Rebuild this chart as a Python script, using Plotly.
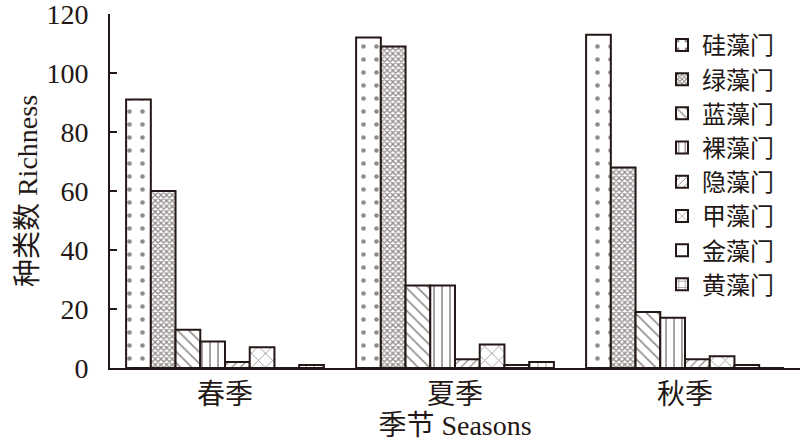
import plotly.graph_objects as go

seasons = ["春季", "夏季", "秋季"]
phyla = ["硅藻门", "绿藻门", "蓝藻门", "裸藻门", "隐藻门", "甲藻门", "金藻门", "黄藻门"]
bacillariophyta = [91, 112, 113]
chlorophyta = [60, 109, 68]
cyanophyta = [13, 28, 19]
euglenophyta = [9, 28, 17]
cryptophyta = [2, 3, 3]
pyrrophyta = [7, 8, 4]
chrysophyta = [0, 1, 1]
xanthophyta = [1, 2, 0]
series = [bacillariophyta, chlorophyta, cyanophyta, euglenophyta,
          cryptophyta, pyrrophyta, chrysophyta, xanthophyta]

ink = "#231815"
patterns = [
    dict(shape=".", size=13, solidity=0.1),
    dict(shape="x", size=4, solidity=0.55),
    dict(shape="\\", size=8, solidity=0.2),
    dict(shape="|", size=8, solidity=0.2),
    dict(shape="/", size=6, solidity=0.2),
    dict(shape="x", size=10, solidity=0.15),
    dict(shape="", size=8, solidity=0.2),
    dict(shape="+", size=8, solidity=0.2),
]

font_family = "Liberation Serif, Times New Roman, Noto Sans CJK SC, serif"

fig = go.Figure()
for name, vals, pat in zip(phyla, series, patterns):
    p = dict(pat)
    p.update(fgcolor=ink, bgcolor="white", fillmode="overlay")
    fig.add_trace(go.Bar(
        x=seasons, y=vals, name=name,
        marker=dict(color="white", line=dict(color=ink, width=2), pattern=p),
    ))

fig.update_layout(
    width=800, height=445,
    margin=dict(l=110, r=0, t=14, b=77),
    paper_bgcolor="white", plot_bgcolor="white",
    barmode="group", bargap=0.14, bargroupgap=0,
    font=dict(family=font_family, size=28, color=ink),
    showlegend=True,
    legend=dict(x=0.8, y=0.975, xanchor="left", yanchor="top",
                bgcolor="rgba(0,0,0,0)", font=dict(size=24),
                itemwidth=30, tracegroupgap=0),
    xaxis=dict(showline=True, linecolor=ink, linewidth=2, ticks="",
               automargin=False,
               title=dict(text="季节 Seasons", standoff=2, font=dict(size=28)),
               tickfont=dict(size=28)),
    yaxis=dict(range=[0, 120], dtick=20,
               showline=True, linecolor=ink,
               linewidth=2, ticks="inside", ticklen=7, tickwidth=2,
               tickcolor=ink, showgrid=False, zeroline=False,
               automargin=False, ticksuffix="\u2007",
               ticklabeloverflow="allow",
               title=dict(text="种类数 Richness", standoff=1, font=dict(size=28)),
               tickfont=dict(size=28)),
)

fig.write_html("out.html", config={"displayModeBar": False},
               post_script="document.body.style.margin='0';document.body.style.overflow='hidden';")
